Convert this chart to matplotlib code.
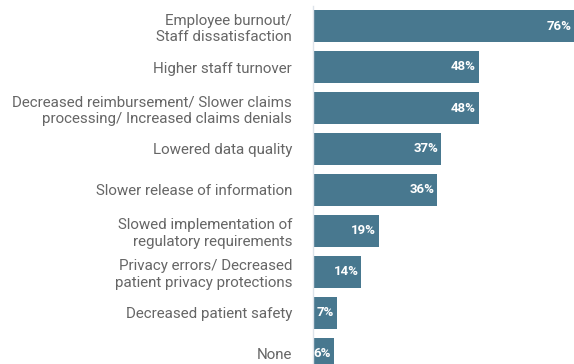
import matplotlib.pyplot as plt

# categorias (de cima para baixo) e percentuais
categorias = [
    "Employee burnout/\nStaff dissatisfaction",
    "Higher staff turnover",
    "Decreased reimbursement/ Slower claims\nprocessing/ Increased claims denials",
    "Lowered data quality",
    "Slower release of information",
    "Slowed implementation of\nregulatory requirements",
    "Privacy errors/ Decreased\npatient privacy protections",
    "Decreased patient safety",
    "None",
]
valores = [76, 48, 48, 37, 36, 19, 14, 7, 6]
rotulos = [f"{v}%" for v in valores]

cor_barra = "#48788f"
cor_texto = "#666666"

plt.rcParams['font.family'] = ['Roboto', 'DejaVu Sans']

fig = plt.figure(figsize=(5.74, 3.64), dpi=100)
ax = fig.add_axes([313 / 574, 1 - 374.5 / 364, 1 - 313 / 574, 369 / 364])

pos = list(range(len(valores)))
ax.barh(pos, valores, height=0.78, color=cor_barra)
ax.set_ylim(len(valores) - 0.5, -0.5)
ax.set_xlim(0, 75.5)

ax.set_yticks(pos)
ax.set_yticklabels(categorias, fontsize=10.9, color=cor_texto, linespacing=1.2)
ax.tick_params(axis='y', length=0, pad=15)
ax.set_xticks([])

for s in ['top', 'right', 'bottom']:
    ax.spines[s].set_visible(False)
ax.spines['left'].set_color('#dde3ea')
ax.spines['left'].set_linewidth(1)

# rótulos de valor dentro das barras
for p, v, r in zip(pos, valores, rotulos):
    ax.annotate(r, (min(v, 75.5), p), xytext=(-2, 0), textcoords='offset points',
                ha='right', va='center', color='white', fontsize=9.5,
                fontweight='bold', annotation_clip=False)

fig.savefig('out.png', dpi=100)
